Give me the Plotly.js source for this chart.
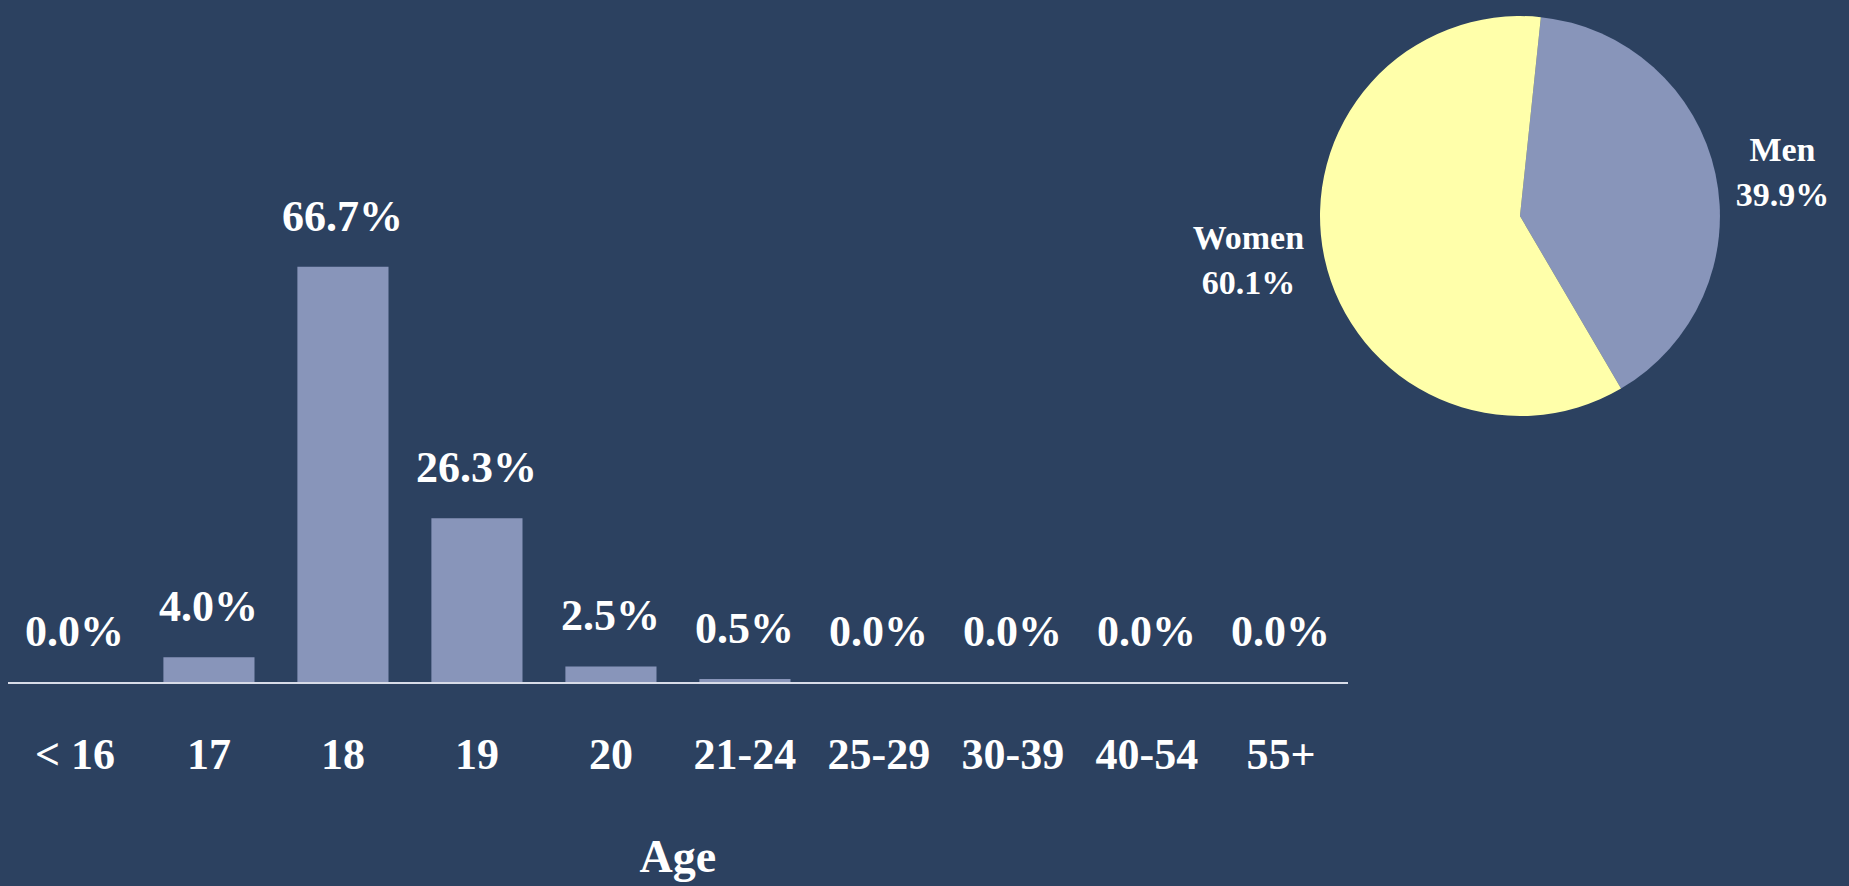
<!DOCTYPE html>
<html>
<head>
<meta charset="utf-8">
<script src="https://cdn.plot.ly/plotly-3.0.1.min.js"></script>
<style>
  html, body { margin: 0; padding: 0; background: #2C4160; }
  #chart { width: 1849px; height: 886px; }
</style>
</head>
<body>
<div id="chart"></div>
<script>
// ---- data ----
const ageCategories = ["< 16", "17", "18", "19", "20", "21-24", "25-29", "30-39", "40-54", "55+"];
const agePercent = [0.0, 4.0, 66.7, 26.3, 2.5, 0.5, 0.0, 0.0, 0.0, 0.0];
const genderLabels = ["Men", "Women"];
const genderPercent = [39.9, 60.1];

const BG = "#2C4160";
const BAR = "#8895BA";
const YELLOW = "#FFFFAA";
const FONT = "Liberation Serif, Times New Roman, serif";

const barTrace = {
  type: "bar",
  x: ageCategories,
  y: agePercent,
  marker: { color: BAR },
  hoverinfo: "x+y",
  xaxis: "x", yaxis: "y"
};

const pieTrace = {
  type: "pie",
  labels: genderLabels,
  values: genderPercent,
  sort: false,
  direction: "clockwise",
  rotation: 6,
  marker: { colors: [BAR, YELLOW] },
  textposition: "outside",
  texttemplate: "<b>%{label}</b><br><b>%{value:.1f}%</b>",
  textfont: { family: FONT, size: 34, color: "#FFFFFF" },
  domain: { x: [0.7139, 0.9302], y: [0.5305, 0.9819] },
  showlegend: false,
  hoverinfo: "label+value"
};

// value labels above bars (x given as category index so numeric-looking names stay categories)
const annotations = ageCategories.map((c, i) => ({
  x: i, y: agePercent[i], xref: "x", yref: "y",
  text: "<b>" + agePercent[i].toFixed(1) + "%</b>",
  showarrow: false, yanchor: "bottom", xanchor: "center", yshift: 24,
  font: { family: FONT, size: 44, color: "#FFFFFF" }
}));

const layout = {
  width: 1849, height: 886,
  paper_bgcolor: BG, plot_bgcolor: BG,
  margin: { l: 0, r: 0, t: 0, b: 0 },
  showlegend: false,
  bargap: 0.32,
  font: { family: FONT, color: "#FFFFFF" },
  xaxis: {
    domain: [0.0043, 0.729],
    type: "category",
    range: [-0.5, 9.5],
    showline: true, linecolor: "#D8DCE8", linewidth: 1.5,
    showgrid: false, zeroline: false,
    ticks: "", tickangle: 0,
    ticklabelstandoff: 32,
    tickfont: { family: FONT, size: 44, color: "#FFFFFF", weight: "bold" },
    title: { text: "<b>Age</b>", font: { family: FONT, size: 46, color: "#FFFFFF" }, standoff: 62 },
    fixedrange: true
  },
  yaxis: {
    domain: [0.2302, 0.7923],
    range: [0, 80],
    visible: false,
    showgrid: false, zeroline: false,
    fixedrange: true
  },
  annotations: annotations
};

Plotly.newPlot("chart", [barTrace, pieTrace], layout, { displayModeBar: false, responsive: false });
</script>
</body>
</html>
